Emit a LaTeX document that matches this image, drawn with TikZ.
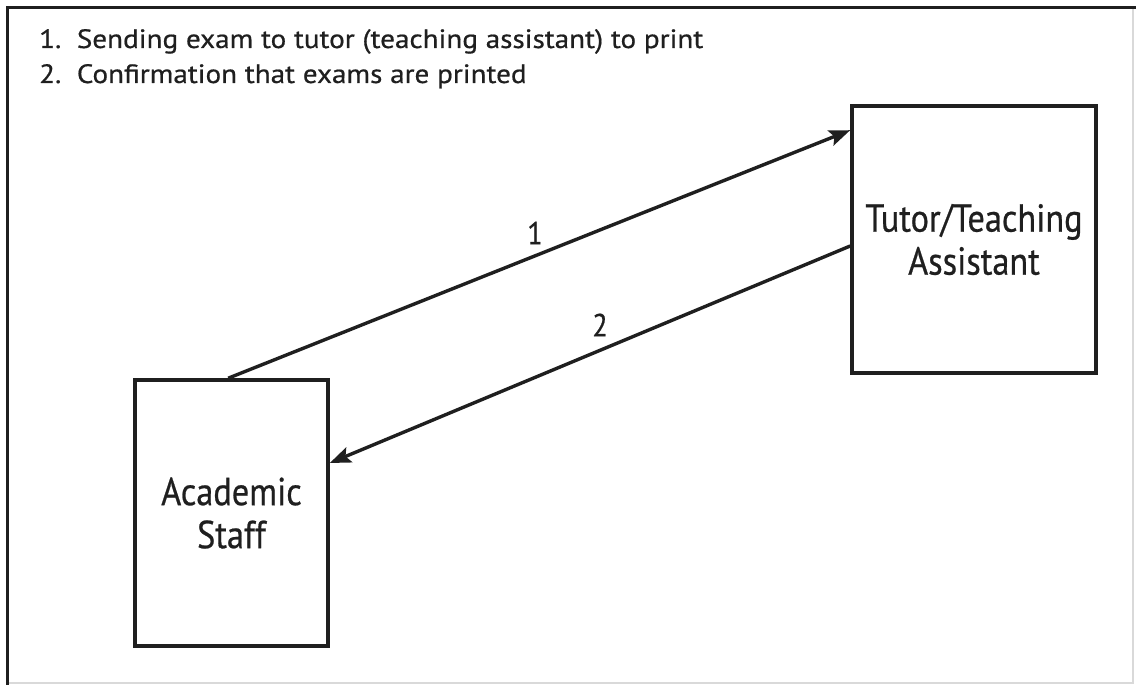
\documentclass[tikz,border=0pt]{standalone}
\usepackage{fontspec}
\setmainfont[FakeStretch=0.88,FakeBold=0.6]{PT Sans}
\newfontfamily\legendfont[FakeStretch=1.1,FakeBold=0.6]{PT Sans}
\usetikzlibrary{arrows.meta,calc}
\begin{document}
\begin{tikzpicture}[x=1pt,y=-1pt,
  boxstyle/.style={draw=black!88,line width=3.6pt,inner sep=0pt,align=center,font=\fontsize{39}{43}\selectfont,text=black!88},
  flow/.style={draw=black!88,line width=3.4pt,-{Stealth[length=21pt,width=16pt,inset=4pt]}},
  numlabel/.style={font=\fontsize{32}{36}\selectfont,text=black!88,inner sep=0pt},
  legendtext/.style={font=\legendfont\fontsize{26.5}{33}\selectfont,text=black!88,inner sep=0pt,anchor=base west}]
\useasboundingbox (0,0) rectangle (1136,685);
\fill[white] (0,0) rectangle (1136,685);
% frame
\draw[black!15,line width=1.2pt] (1133,7) -- (1133,683) -- (7,683);
\draw[black!88,line width=3pt] (7.5,685) -- (7.5,7.5) -- (1136,7.5);
% legend
\node[legendtext] (legend1) at (39,48) {1.\ \ Sending exam to tutor (teaching assistant) to print};
\node[legendtext] (legend2) at (39,83) {2.\ \ Confirmation that exams are printed};
% boxes
\node[boxstyle,minimum width=244pt,minimum height=267pt] (tutor) at (974,239.5) {Tutor/Teaching\\Assistant};
\node[boxstyle,minimum width=193pt,minimum height=266pt] (acad) at (231.5,513) {Academic\\Staff};
% connectors
\coordinate (s1) at ($(acad.north west)+(95,0)$);
\coordinate (e1) at ($(tutor.north west)+(0,26)$);
\draw[flow] (s1) -- (e1);
\coordinate (s2) at ($(tutor.west)+(0,6.5)$);
\coordinate (e2) at ($(acad.east)+(0,-50)$);
\draw[flow] (s2) -- (e2);
% labels
\node[numlabel] (l1) at (535,233) {1};
\node[numlabel] (l2) at (600,325) {2};
\end{tikzpicture}
\end{document}
